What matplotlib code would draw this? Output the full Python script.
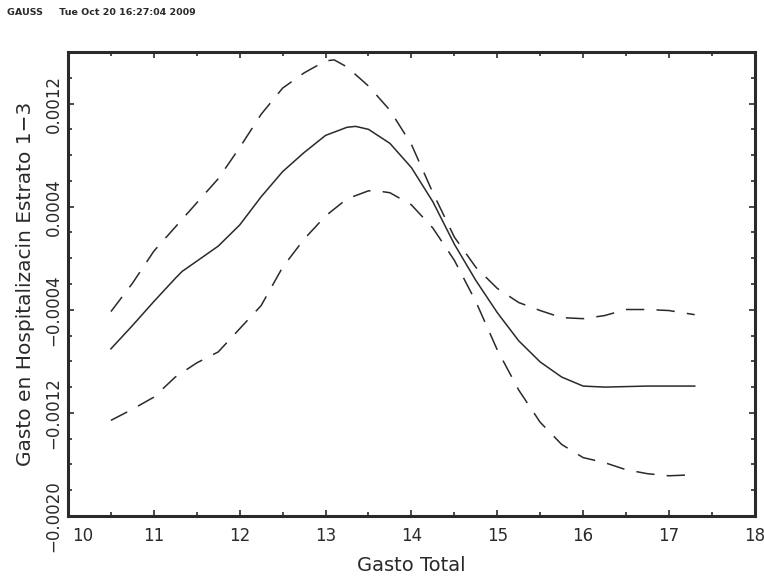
import numpy as np
import matplotlib
matplotlib.use("Agg")
import matplotlib.pyplot as plt
from matplotlib.ticker import MultipleLocator, FixedLocator, FuncFormatter

# values
x_mid = [10.5, 10.75, 11.0, 11.25, 11.33, 11.5, 11.75, 12.0, 12.25, 12.5, 12.75, 13.0, 13.25, 13.35,
         13.5, 13.75, 14.0, 14.25, 14.5, 14.75, 15.0, 15.25, 15.5, 15.75, 16.0, 16.25, 16.5, 16.75, 17.0, 17.3]
y_mid = [-0.000703, -0.000523, -0.000336, -0.000156, -0.000102, -0.000023, 0.000094, 0.000258, 0.000477,
         0.000672, 0.00082, 0.000953, 0.001016, 0.001023, 0.001, 0.000891, 0.000703, 0.000438, 0.000109,
         -0.000172, -0.000422, -0.000641, -0.000805, -0.000922, -0.000992, -0.001, -0.000996, -0.000992,
         -0.000992, -0.000992]

x_band = [10.5, 10.75, 11.0, 11.25, 11.5, 11.75, 12.0, 12.25, 12.5, 12.75, 13.0, 13.1, 13.25, 13.5,
          13.75, 14.0, 14.25, 14.5, 14.75, 15.0, 15.25, 15.5, 15.75, 16.0, 16.25, 16.5, 16.75, 17.0, 17.3]
y_upper = [-0.000414, -0.000195, 0.000055, 0.000242, 0.00043, 0.000617, 0.000859, 0.001117, 0.00132,
           0.001438, 0.001531, 0.001539, 0.001484, 0.001336, 0.001148, 0.000883, 0.000508, 0.000164,
           -0.00007, -0.000234, -0.000344, -0.000406, -0.000461, -0.000469, -0.000445, -0.000398,
           -0.000398, -0.000406, -0.000438]

x_low = [10.5, 10.75, 11.0, 11.25, 11.5, 11.75, 12.0, 12.25, 12.5, 12.75, 13.0, 13.25, 13.5, 13.6,
         13.75, 14.0, 14.25, 14.5, 14.75, 15.0, 15.25, 15.5, 15.75, 16.0, 16.25, 16.5, 16.75, 17.0, 17.3]
y_lower = [-0.001258, -0.001172, -0.001078, -0.000922, -0.000812, -0.000727, -0.000547, -0.000367,
           -0.00007, 0.000148, 0.000328, 0.000461, 0.000523, 0.000523, 0.000508, 0.000414, 0.000234,
           -0.000016, -0.000336, -0.000711, -0.001023, -0.001273, -0.001445, -0.001547, -0.001586,
           -0.001641, -0.001672, -0.001688, -0.00168]

ytick_vals = [-0.0020, -0.0012, -0.0004, 0.0004, 0.0012]
ytick_text = ["\u22120.0020", "\u22120.0012", "\u22120.0004", "0.0004", "0.0012"]
x_lo, x_hi = 10, 18

fig = plt.figure(figsize=(7.64, 5.76), dpi=100)
ax = fig.add_axes([0.089, 0.1042, 0.899, 0.8055])

ink = "#2a2a2a"
ax.plot(x_mid, y_mid, color=ink, lw=1.1)
ax.plot(x_band, y_upper, color=ink, lw=1.1, dashes=(12, 8))
ax.plot(x_low, y_lower, color=ink, lw=1.1, dashes=(12, 8))

ax.set_xlim(x_lo, x_hi)
ax.set_ylim(-0.0020, 0.0016)
ax.xaxis.set_major_locator(MultipleLocator(1))
ax.xaxis.set_minor_locator(MultipleLocator(0.5))
# first label is drawn separately, nudged right like the original
ax.xaxis.set_major_formatter(FuncFormatter(lambda v, p: "" if v == x_lo else "%d" % v))
ax.yaxis.set_major_locator(FixedLocator(ytick_vals))
ax.yaxis.set_minor_locator(MultipleLocator(0.0002))
ax.set_yticklabels(ytick_text, rotation=90, va="center", fontsize=12.5)

ax.tick_params(which="both", direction="in", top=True, right=True, color=ink,
               labelsize=12, labelcolor=ink)
ax.tick_params(which="major", length=4.5, width=1.2)
ax.tick_params(which="minor", length=2.6, width=1.2)
ax.tick_params(axis="x", pad=8)
ax.tick_params(axis="y", pad=4)
for s in ax.spines.values():
    s.set_linewidth(2.2)
    s.set_color(ink)

ax.annotate("%d" % x_lo, xy=(x_lo, 0), xycoords=("data", "axes fraction"),
            xytext=(3, -8), textcoords="offset points", ha="left", va="top",
            fontsize=12, color=ink)

ax.set_xlabel("Gasto Total", fontsize=14, color=ink, labelpad=8)
ax.set_ylabel("Gasto en Hospitalizacin Estrato 1\u22123", fontsize=14.5, color=ink, labelpad=7)

fig.text(0.009, 0.979, "GAUSS     Tue Oct 20 16:27:04 2009", fontsize=6.8, fontweight="bold",
         color=ink, va="center", ha="left")

fig.savefig("out.png", dpi=100)
